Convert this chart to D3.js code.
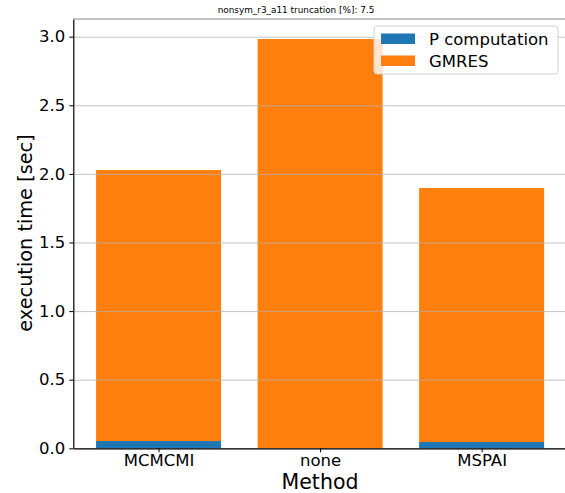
<!DOCTYPE html>
<html><head><meta charset="utf-8">
<script src="https://cdn.jsdelivr.net/npm/d3@7"></script>
<style>body{margin:0;background:#fff}</style>
</head><body><svg id="c" width="565" height="493" font-family="DejaVu Sans, Verdana, sans-serif"></svg>
<script>
const methods = ["MCMCMI", "none", "MSPAI"];
const pComputation = [0.053, 0.0, 0.046];
const gmres = [1.975, 2.983, 1.851];
const yTicks = [0.0, 0.5, 1.0, 1.5, 2.0, 2.5, 3.0];
const seriesNames = ["P computation", "GMRES"];
const colors = ["#1f77b4", "#ff7f0e"];
const FONT = "DejaVu Sans, Verdana, sans-serif";

const svg = d3.select("#c");
const L = 73.3, B = 448.3, T = 19, R = 566.9;
const x = d3.scaleLinear().domain([-0.528, 2.528]).range([L, R]);
const y = d3.scaleLinear().domain([0, 3.129]).range([B, T]);
const bw = 0.774;

methods.forEach((m, i) => {
  svg.append("rect").attr("x", x(i - bw/2)).attr("width", x(i + bw/2) - x(i - bw/2))
    .attr("y", y(pComputation[i])).attr("height", y(0) - y(pComputation[i])).attr("fill", colors[0]);
  svg.append("rect").attr("x", x(i - bw/2)).attr("width", x(i + bw/2) - x(i - bw/2))
    .attr("y", y(pComputation[i] + gmres[i])).attr("height", y(pComputation[i]) - y(pComputation[i] + gmres[i])).attr("fill", colors[1]);
});

const grid = svg.append("g").attr("transform", `translate(${L},0)`)
  .call(d3.axisLeft(y).tickValues(yTicks).tickFormat("").tickSize(-(R - L)));
grid.select(".domain").remove();
grid.selectAll(".tick line").attr("stroke", "#b0b0b0").attr("stroke-opacity", 0.75).attr("stroke-width", 1);

const yAx = svg.append("g").attr("transform", `translate(${L},0)`)
  .call(d3.axisLeft(y).tickValues(yTicks).tickFormat(d3.format(".1f")).tickSize(4).tickPadding(4).tickSizeOuter(0));
yAx.attr("font-family", FONT).attr("font-size", 16.5);
yAx.select(".domain").attr("stroke", "#000").attr("stroke-width", 1.2);
yAx.selectAll(".tick line").attr("stroke", "#000");
yAx.selectAll(".tick text").attr("fill", "#000");

const xAx = svg.append("g").attr("transform", `translate(0,${B})`)
  .call(d3.axisBottom(x).tickValues([0,1,2]).tickFormat(i => methods[i]).tickSize(4).tickPadding(1.5).tickSizeOuter(0));
xAx.attr("font-family", FONT).attr("font-size", 16.5);
xAx.select(".domain").attr("stroke", "#000").attr("stroke-width", 1.2);
xAx.selectAll(".tick line").attr("stroke", "#000");
xAx.selectAll(".tick text").attr("fill", "#000");

svg.append("line").attr("x1", L).attr("x2", R).attr("y1", T).attr("y2", T).attr("stroke", "#888").attr("stroke-width", 1);

svg.append("text").attr("x", 320).attr("y", 489).attr("text-anchor", "middle").attr("font-size", 20.5).text("Method");
svg.append("text").attr("transform", "translate(32,233) rotate(-90)").attr("text-anchor", "middle").attr("font-size", 19.3).text("execution time [sec]");
svg.append("text").attr("x", 296).attr("y", 13).attr("text-anchor", "middle").attr("font-size", 8.9).text("nonsym_r3_a11 truncation [%]: 7.5");

const lg = svg.append("g");
lg.append("rect").attr("x", 374).attr("y", 26).attr("width", 184).attr("height", 48).attr("rx", 3)
  .attr("fill", "#fff").attr("fill-opacity", 0.8).attr("stroke", "#d0d0d0").attr("stroke-width", 1);
seriesNames.forEach((s, i) => {
  lg.append("rect").attr("x", 381).attr("y", 33.5 + i*22).attr("width", 34).attr("height", 10.5).attr("fill", colors[i]);
  lg.append("text").attr("x", 429).attr("y", 44.5 + i*22).attr("font-size", 16.5).text(s);
});
</script></body></html>
